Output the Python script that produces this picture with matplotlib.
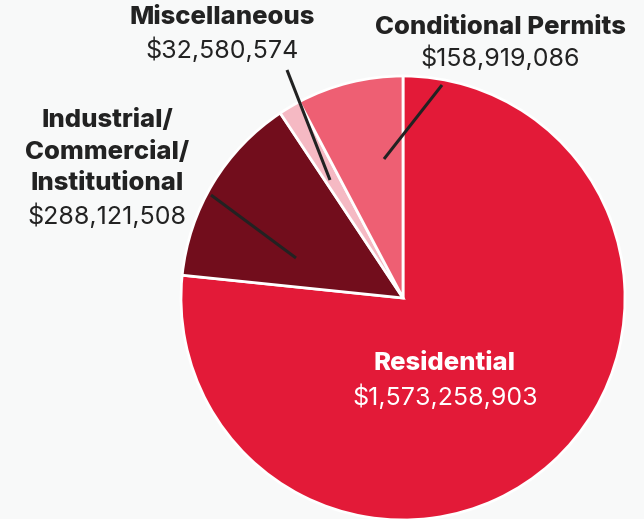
import matplotlib
matplotlib.use('Agg')
import matplotlib.pyplot as plt

labels = ["Residential", "Industrial/\nCommercial/\nInstitutional", "Miscellaneous", "Conditional Permits"]
values = [1573258903, 288121508, 32580574, 158919086]
colors = ["#e31a38", "#720d1c", "#f5b9c3", "#ee5f73"]

bg = "#f8f9f9"
ink = "#222222"
H = 519

fig = plt.figure(figsize=(6.44, 5.19), dpi=100, facecolor=bg)
ax = fig.add_axes([0, 0, 1, 1])
ax.set_facecolor(bg)
ax.set_xlim(0, 644)
ax.set_ylim(0, H)
ax.set_aspect('equal')
ax.axis('off')

ax.pie(values, colors=colors, startangle=90, counterclock=False,
       center=(403, H - 298), radius=222,
       wedgeprops=dict(edgecolor='white', linewidth=2))
ax.set_xlim(0, 644)
ax.set_ylim(0, H)

# leader lines (pixel coords, y down)
leaders = [
    ((287, 70), (330, 180)),
    ((442, 85), (384, 159)),
    ((211, 195), (296, 258)),
]
for (x0, y0), (x1, y1) in leaders:
    ax.plot([x0, x1], [H - y0, H - y1], color=ink, lw=2.2, solid_capstyle='butt')

fam = ['Inter', 'DejaVu Sans']
fs_b = 18.5
fs = 18

def money(v):
    return "${:,}".format(v)

# Residential
ax.text(445, H - 363, labels[0], color='white', fontsize=fs_b, fontweight='heavy',
        family=fam, ha='center', va='center')
ax.text(445, H - 397, money(values[0]), color='white', fontsize=fs,
        family=fam, ha='center', va='center')

# ICI
for i, line in enumerate(labels[1].split("\n")):
    ax.text(107, H - (120 + 32 * i), line, color=ink, fontsize=fs_b, fontweight='heavy',
            family=fam, ha='center', va='center')
ax.text(107, H - 216, money(values[1]), color=ink, fontsize=fs,
        family=fam, ha='center', va='center')

# Miscellaneous
ax.text(222, H - 17, labels[2], color=ink, fontsize=fs_b, fontweight='heavy',
        family=fam, ha='center', va='center')
ax.text(222, H - 50, money(values[2]), color=ink, fontsize=fs,
        family=fam, ha='center', va='center')

# Conditional Permits
ax.text(500, H - 27, labels[3], color=ink, fontsize=fs_b, fontweight='heavy',
        family=fam, ha='center', va='center')
ax.text(500, H - 58, money(values[3]), color=ink, fontsize=fs,
        family=fam, ha='center', va='center')

fig.savefig("out.png", dpi=100, facecolor=bg)
